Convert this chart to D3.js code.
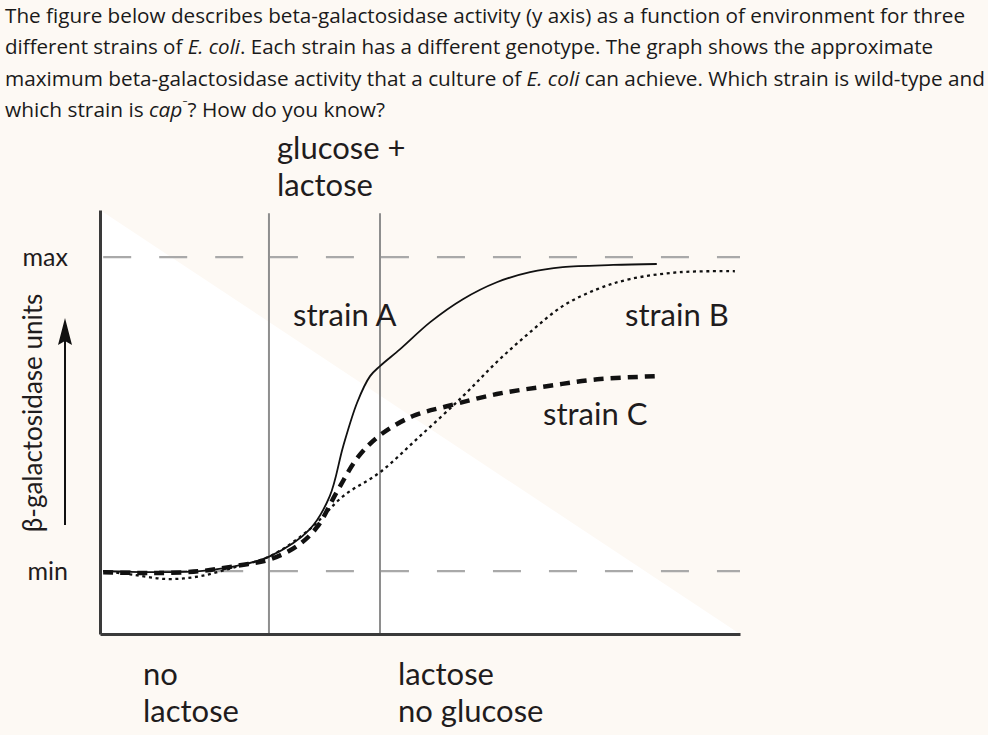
<!DOCTYPE html>
<html>
<head>
<meta charset="utf-8">
<script src="https://cdn.jsdelivr.net/npm/d3@7"></script>
<style>
  html, body { margin: 0; padding: 0; background: #fdf9f4; }
  svg { display: block; }
</style>
</head>
<body>
<script>
// ---------------- data ----------------
const questionLines = [
  [{t: "The figure below describes beta-galactosidase activity (y axis) as a function of environment for three"}],
  [{t: "different strains of "}, {t: "E. coli", i: true}, {t: ". Each strain has a different genotype. The graph shows the approximate"}],
  [{t: "maximum beta-galactosidase activity that a culture of "}, {t: "E. coli", i: true}, {t: " can achieve. Which strain is wild-type and"}],
  [{t: "which strain is "}, {t: "cap", i: true}, {t: "\u207B", sup: true}, {t: "? How do you know?"}]
];
const questionWidths = [960, 928, 980, 380];

const yTickValues = [0, 100];
const yTickLabels = ["min", "max"];
const yAxisTitle = "\u03B2-galactosidase units";

// environment boundaries (x, in environment units 0..100)
const boundaries = [26.4, 43.75];
const topLabel = ["glucose +", "lactose"];
const bottomLabelLeft = ["no", "lactose"];
const bottomLabelRight = ["lactose", "no glucose"];

// activity (0 = min, 100 = max) vs environment
const strainA = [[0.5,0],[7.8,-0.3],[15.6,0],[21.9,1.9],[26.6,4.8],[32.8,13.4],[35.9,23.9],[38.0,39.8],
  [40.2,53.8],[42.2,62.1],[43.75,65.3],[46.9,70.7],[51.6,79.3],[56.7,86.6],[62.0,92.0],[67.2,95.2],
  [72.3,96.8],[80.2,97.5],[87.0,97.8]];
const strainB = [[0.5,0],[4.7,-1.0],[10.5,-2.5],[15.6,-1.6],[21.1,1.3],[26.6,4.8],[32.8,13.4],[38.0,23.9],
  [43.75,31.5],[50.0,43.0],[56.7,55.7],[62.0,66.6],[67.2,76.1],[72.3,84.4],[77.7,89.8],[82.8,93.0],
  [90.6,95.2],[99.2,95.5]];
const strainC = [[0.5,-0.3],[7.8,-0.6],[15.6,0],[21.9,1.9],[26.6,3.8],[30.8,8.0],[33.9,14.0],[37.0,25.2],
  [40.3,36.3],[43.75,43.3],[48.9,49.4],[54.2,52.5],[62.0,56.4],[69.8,58.9],[77.7,61.1],[87.0,62.1]];
const strainNames = ["strain A", "strain B", "strain C"];

// ---------------- drawing ----------------
const W = 988, H = 735;
const svg = d3.select("body").append("svg").attr("width", W).attr("height", H);

const textColor = "#1f1c1d";
const chartFont = "Lato, 'Open Sans', sans-serif";

// question text
const q = svg.append("g").attr("font-family", "'Open Sans', 'Noto Sans', sans-serif")
  .attr("font-size", 19.5).attr("fill", "#1a1a1a");
questionLines.forEach((line, li) => {
  const t = q.append("text").attr("x", 5).attr("y", 23 + li * 31.3)
    .attr("textLength", questionWidths[li]).attr("lengthAdjust", "spacingAndGlyphs");
  line.forEach(seg => {
    const s = t.append("tspan").text(seg.t);
    if (seg.i) s.attr("font-style", "italic");
    if (seg.sup) s.attr("font-size", 14).attr("dy", -7);
    if (seg.t.startsWith("?")) s.attr("dy", 7);
  });
});

// scales
const x = d3.scaleLinear().domain([0, 100]).range([100, 740]);
const y = d3.scaleLinear().domain([-20, 115]).range([634, 210]);

// white triangle background
svg.append("path")
  .attr("d", d3.line()([[x(0), y(115)], [x(100), y(-20)], [x(0), y(-20)]]) + "Z")
  .attr("fill", "#ffffff");

// dashed reference lines at min and max, restarting in each environment region
const regions = [[0.5, boundaries[0]], [boundaries[0] + 0.15, boundaries[1]], [boundaries[1] + 0.15, 100]];
yTickValues.forEach(v => {
  regions.forEach(r => {
    svg.append("line")
      .attr("x1", x(r[0])).attr("x2", x(r[1]))
      .attr("y1", y(v)).attr("y2", y(v))
      .attr("stroke", "#a9a9a9").attr("stroke-width", 2.2)
      .attr("stroke-dasharray", "28,28");
  });
});

// environment boundary lines
svg.selectAll(".bnd").data(boundaries).join("line")
  .attr("x1", d => x(d)).attr("x2", d => x(d))
  .attr("y1", y(114)).attr("y2", y(-20))
  .attr("stroke", "#8e8e8e").attr("stroke-width", 2);

// axes
const yAxis = svg.append("g").attr("transform", `translate(${x(0)},0)`)
  .call(d3.axisLeft(y).tickValues(yTickValues).tickFormat((d, i) => yTickLabels[i])
    .tickSize(0).tickSizeOuter(0).tickPadding(32));
yAxis.select(".domain").attr("stroke", "#3a3a3a").attr("stroke-width", 3);
yAxis.selectAll("text").attr("font-family", chartFont).attr("font-size", 25)
  .attr("fill", textColor).attr("dy", "0.32em");

const xAxis = svg.append("g").attr("transform", `translate(0,${y(-20)})`)
  .call(d3.axisBottom(x).tickValues([]).tickSizeOuter(0));
xAxis.select(".domain").attr("stroke", "#3a3a3a").attr("stroke-width", 3);

// curves
const line = d3.line().x(d => x(d[0])).y(d => y(d[1])).curve(d3.curveCatmullRom.alpha(0.5));
svg.append("path").datum(strainC).attr("d", line)
  .attr("fill", "none").attr("stroke", "#111").attr("stroke-width", 4.5)
  .attr("stroke-dasharray", "10,7");
svg.append("path").datum(strainB).attr("d", line)
  .attr("fill", "none").attr("stroke", "#111").attr("stroke-width", 2.3)
  .attr("stroke-dasharray", "3,3.6");
svg.append("path").datum(strainA).attr("d", line)
  .attr("fill", "none").attr("stroke", "#111").attr("stroke-width", 1.8);

// labels
const lab = svg.append("g").attr("font-family", chartFont).attr("font-size", 31).attr("fill", textColor);
const addLines = (lines, px, py) => {
  const t = lab.append("text").attr("x", px).attr("y", py);
  lines.forEach((s, i) => t.append("tspan").attr("x", px).attr("dy", i ? 37 : 0).text(s));
};
addLines(topLabel, 277, 159);
addLines(bottomLabelLeft, 143, 685);
addLines(bottomLabelRight, 398, 685);
lab.append("text").attr("x", 293).attr("y", 326).text(strainNames[0]);
lab.append("text").attr("x", 625).attr("y", 326).text(strainNames[1]);
lab.append("text").attr("x", 543).attr("y", 425).text(strainNames[2]);

// y-axis title and arrow
svg.append("text").attr("transform", "translate(42,413) rotate(-90)")
  .attr("text-anchor", "middle").attr("font-family", chartFont).attr("font-size", 26)
  .attr("fill", textColor).text(yAxisTitle);
svg.append("line").attr("x1", 65).attr("x2", 65).attr("y1", 525).attr("y2", 338)
  .attr("stroke", "#111").attr("stroke-width", 2);
svg.append("path").attr("d", "M65,318 L72,345 L65,341 L58,345 Z").attr("fill", "#111");
</script>
</body>
</html>
